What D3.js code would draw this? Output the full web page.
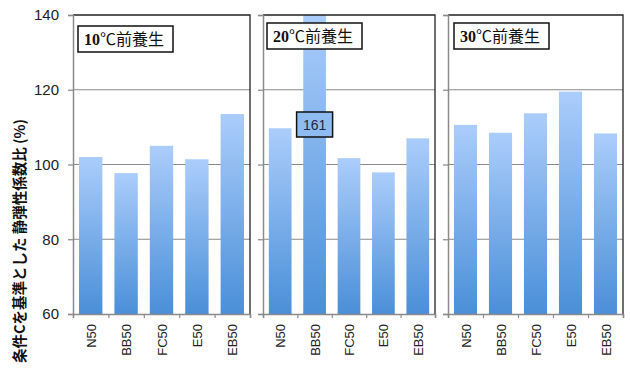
<!DOCTYPE html>
<html lang="ja">
<head>
<meta charset="UTF-8">
<title>静弾性係数比</title>
<script src="https://d3js.org/d3.v7.min.js"></script>
<style>
  body { margin: 0; background: #fff; }
  svg { display: block; }
</style>
</head>
<body>
<svg width="630" height="372"></svg>
<script>
const categories = ["N50", "BB50", "FC50", "E50", "EB50"];
const panelTitles = ["10", "20", "30"];
const values10 = [102, 97.7, 105, 101.4, 113.5];
const values20 = [109.7, 161, 101.7, 97.9, 107];
const values30 = [110.6, 108.5, 113.7, 119.5, 108.3];
const yTicks = [60, 80, 100, 120, 140];

const panels = [
  { title: panelTitles[0], values: values10, x0: 73, x1: 250, box: [78, 26] },
  { title: panelTitles[1], values: values20, x0: 263, x1: 435, box: [267, 23] },
  { title: panelTitles[2], values: values30, x0: 448, x1: 623, box: [454, 23] }
];

const svg = d3.select("svg");
const plotTop = 15, plotBottom = 314;

const y = d3.scaleLinear().domain([60, 140]).range([plotBottom, plotTop]);

const defs = svg.append("defs");
const grad = defs.append("linearGradient")
  .attr("id", "barGrad")
  .attr("x1", 0).attr("y1", 0).attr("x2", 0).attr("y2", 1);
grad.append("stop").attr("offset", "0%").attr("stop-color", "#abcdfb");
grad.append("stop").attr("offset", "100%").attr("stop-color", "#4a8fd8");

defs.append("clipPath").attr("id", "plotClip")
  .append("rect").attr("x", 0).attr("y", plotTop).attr("width", 630).attr("height", plotBottom - plotTop);

panels.forEach((p, i) => {
  const x = d3.scaleBand().domain(categories).range([p.x0, p.x1]).paddingInner(0.34).paddingOuter(0.17);
  const g = svg.append("g");

  // gridlines
  g.selectAll("line.grid")
    .data(yTicks.slice(1, -1))
    .enter().append("line")
    .attr("x1", p.x0).attr("x2", p.x1)
    .attr("y1", d => y(d)).attr("y2", d => y(d))
    .attr("stroke", "#8a8a8a").attr("stroke-width", 1);

  // bars
  g.append("g").attr("clip-path", "url(#plotClip)")
    .selectAll("rect")
    .data(p.values)
    .enter().append("rect")
    .attr("x", (d, j) => x(categories[j]))
    .attr("width", x.bandwidth())
    .attr("y", d => y(Math.min(d, 140)))
    .attr("height", d => y(60) - y(Math.min(d, 140)))
    .attr("fill", "url(#barGrad)");

  // frame: top and right dark
  g.append("path")
    .attr("d", `M${p.x0},${plotTop}H${p.x1}V${plotBottom}`)
    .attr("fill", "none").attr("stroke", "#222").attr("stroke-width", 1.3);

  // left axis
  const yAxis = d3.axisLeft(y).tickValues(yTicks).tickSize(5).tickFormat(i === 0 ? d3.format("d") : "");
  const ya = g.append("g").attr("transform", `translate(${p.x0},0)`).call(yAxis);
  ya.select(".domain").attr("stroke", "#8a8a8a").attr("stroke-width", 1.5);
  ya.selectAll(".tick line").attr("stroke", "#8a8a8a").attr("stroke-width", 1.2);
  ya.selectAll(".tick text")
    .attr("x", -14)
    .attr("fill", "#222")
    .style("font-family", "'Liberation Sans', Arial, sans-serif")
    .style("font-size", "15px");

  // bottom axis with ticks between categories
  const xb = d3.scaleLinear().domain([0, categories.length]).range([p.x0, p.x1]);
  const xa = g.append("g").attr("transform", `translate(0,${plotBottom})`)
    .call(d3.axisBottom(xb).ticks(categories.length).tickSize(4).tickFormat(""));
  xa.select(".domain").attr("stroke", "#8a8a8a").attr("stroke-width", 1.5);
  xa.selectAll(".tick line").attr("stroke", "#8a8a8a").attr("stroke-width", 1.2);

  // category labels rotated
  g.selectAll("text.cat")
    .data(categories)
    .enter().append("text")
    .attr("transform", d => `translate(${x(d) + x.bandwidth() / 2 + 5},${plotBottom + 10}) rotate(-90)`)
    .attr("text-anchor", "end")
    .attr("fill", "#222")
    .style("font-family", "'Liberation Sans', Arial, sans-serif")
    .style("font-size", "13px")
    .text(d => d);

  // panel title box
  const bx = p.box[0], by = p.box[1];
  g.append("rect")
    .attr("x", bx).attr("y", by).attr("width", 95).attr("height", 26)
    .attr("fill", "#fff").attr("stroke", "#111").attr("stroke-width", 1.5);
  const t = g.append("text")
    .attr("x", bx + 6).attr("y", by + 19)
    .attr("fill", "#111")
    .style("font-size", "16px");
  t.append("tspan")
    .style("font-family", "'Liberation Serif', 'Times New Roman', serif")
    .style("font-weight", "bold")
    .text(p.title);
  t.append("tspan")
    .style("font-family", "'Noto Sans CJK JP', sans-serif")
    .text("℃前養生");

  // value label for clipped bar
  p.values.forEach((v, j) => {
    if (v > 140) {
      const cx = x(categories[j]) + x.bandwidth() / 2;
      g.append("rect")
        .attr("x", cx - 18).attr("y", 112).attr("width", 36).attr("height", 25)
        .attr("fill", "#8ebcf0").attr("stroke", "#111").attr("stroke-width", 1.5);
      g.append("text")
        .attr("x", cx).attr("y", 130)
        .attr("text-anchor", "middle")
        .attr("fill", "#1a2a40")
        .style("font-family", "'Liberation Sans', Arial, sans-serif")
        .style("font-size", "14px")
        .text(Math.round(v));
    }
  });
});

// y axis title
svg.append("text")
  .attr("transform", `translate(25,241) rotate(-90)`)
  .attr("text-anchor", "middle")
  .attr("fill", "#111")
  .style("font-family", "'Noto Sans CJK JP', sans-serif")
  .style("font-weight", "bold")
  .style("font-size", "14.5px")
  .text("条件Cを基準とした 静弾性係数比 (%)");
</script>
</body>
</html>
